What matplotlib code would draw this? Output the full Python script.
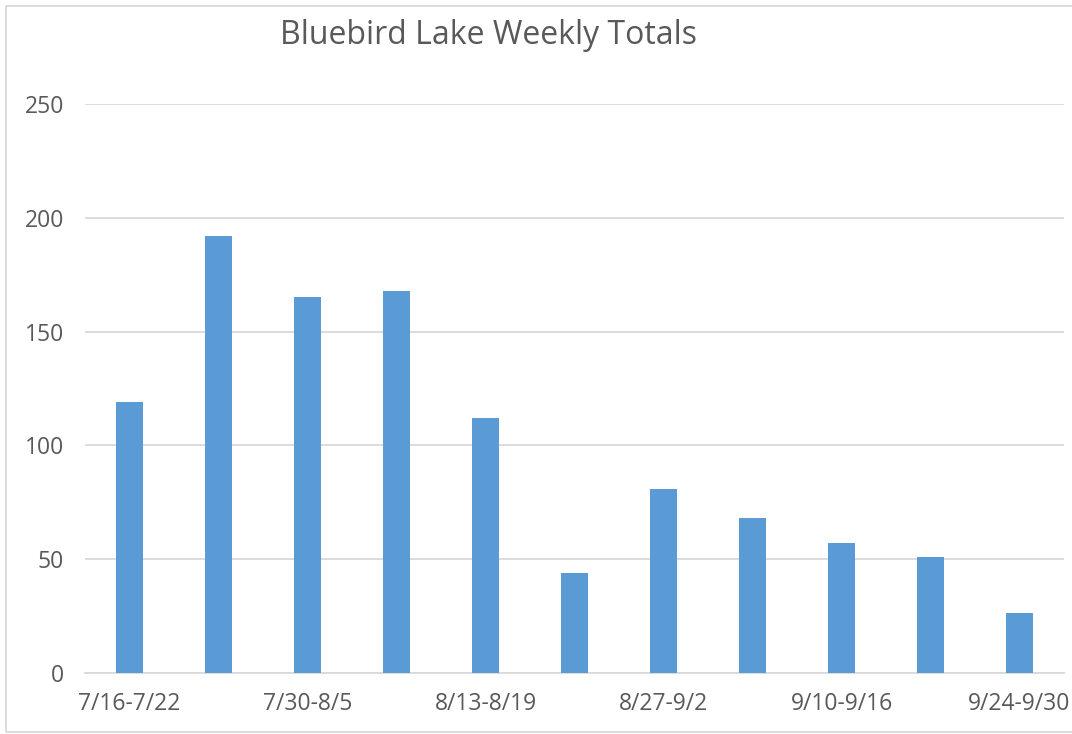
import numpy as np
import matplotlib.pyplot as plt
from matplotlib.patches import Rectangle

plt.rcParams['font.family'] = ['Open Sans', 'DejaVu Sans']

weeks = ["7/16-7/22", "7/23-7/29", "7/30-8/5", "8/6-8/12", "8/13-8/19", "8/20-8/26",
         "8/27-9/2", "9/3-9/9", "9/10-9/16", "9/17-9/23", "9/24-9/30"]
totals = [119, 192, 165, 168, 112, 44, 81, 68, 57, 51, 26.5]
y_ticks = [0, 50, 100, 150, 200, 250]

fig = plt.figure(figsize=(10.72, 7.34), dpi=100)
# axes: x from 85 to 1064 px, y from 673 (0) to 104 (250)
ax = fig.add_axes([85 / 1072, (734 - 673) / 734, (1064 - 85) / 1072, (673 - 104) / 734])

x = np.arange(len(weeks))
ax.bar(x, totals, width=0.31, color='#5b9bd5', zorder=3)

ax.set_xlim(-0.5, len(weeks) - 0.5)
ax.set_ylim(0, 250)
ax.set_yticks(y_ticks)
ax.set_yticklabels([str(v) for v in y_ticks])
ax.set_xticks(x[::2])
ax.set_xticklabels(weeks[::2])
ax.yaxis.grid(True, color='#d9d9d9', linewidth=1.3, zorder=0)
for s in ['top', 'right', 'left']:
    ax.spines[s].set_visible(False)
ax.spines['bottom'].set_color('#d9d9d9')
ax.spines['bottom'].set_linewidth(1.3)
ax.tick_params(axis='both', length=0, labelsize=16.5, colors='#595959')
ax.tick_params(axis='y', pad=15)
ax.tick_params(axis='x', pad=14)

fig.text(488 / 1072, 1 - 35 / 734, "Bluebird Lake Weekly Totals", ha='center', va='center',
         fontsize=23, color='#595959')

fig.patches.append(Rectangle((6 / 1072, 2 / 734), 1.2, 1 - 8 / 734, transform=fig.transFigure,
                             fill=False, edgecolor='#d9d9d9', linewidth=1.3))

fig.savefig('out.png', dpi=100)
